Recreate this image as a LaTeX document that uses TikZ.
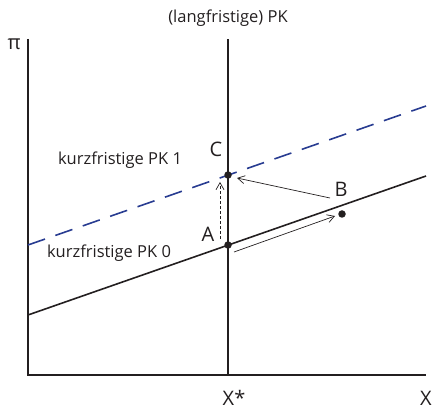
\documentclass[tikz,border=0pt]{standalone}
\usepackage{fontspec}
\setmainfont{Open Sans}
\usetikzlibrary{arrows.meta}
\definecolor{ink}{RGB}{35,31,32}
\definecolor{pkblue}{RGB}{40,60,145}
\begin{document}
\begin{tikzpicture}[x=1pt,y=-1pt,
  axis/.style={ink,line width=1.4pt},
  curve/.style={ink,line width=1.6pt},
  thinarrow/.style={ink,line width=0.7pt,-{Straight Barb[length=7pt,width=8pt]}},
  lbl/.style={ink,font=\fontsize{16.5}{18}\selectfont,inner sep=0pt},
  big/.style={font=\fontsize{20}{22}\selectfont},
  dotstyle/.style={circle,fill=ink,inner sep=0pt,minimum size=7.5pt}]
\useasboundingbox (0,0) rectangle (432,409);
% axes
\coordinate (O) at (28,375);
\coordinate (Ytop) at (28,39);
\coordinate (Xend) at (426,375);
\draw[axis] (Ytop) -- (O) -- (Xend);
% long-run PK
\coordinate (Lbot) at (228,375);
\coordinate (Ltop) at (228,39);
\draw[axis] (Lbot) -- (Ltop);
% short-run PK 0
\coordinate (S0a) at (28,315);
\coordinate (S0b) at (426,176);
\draw[curve] (S0a) -- (S0b);
% short-run PK 1
\coordinate (S1a) at (28,245);
\coordinate (S1b) at (426,106);
\draw[pkblue,line width=1.6pt,dash pattern=on 18pt off 11pt] (S1a) -- (S1b);
% points
\node[dotstyle] (A) at (228,245) {};
\node[dotstyle] (C) at (228,175) {};
\node[dotstyle] (B) at (342,214) {};
% arrows
\coordinate (dA) at (220,239);
\coordinate (dC) at (220,182);
\draw[thinarrow,densely dashed] (dA) -- (dC);
\coordinate (r1) at (234,252);
\coordinate (r2) at (335,216);
\draw[thinarrow] (r1) -- (r2);
\coordinate (b1) at (330,198);
\coordinate (b2) at (237,178);
\draw[thinarrow] (b1) -- (b2);
% labels
\node[lbl] (tLR) at (228,18) {(langfristige) PK};
\node[lbl,big] (tpi) at (14,44) {π};
\node[lbl,big] (tC) at (216,149) {C};
\node[lbl,big] (tB) at (341,189) {B};
\node[lbl,big] (tA) at (208,234) {A};
\node[lbl] (tS1) at (120,160) {kurzfristige PK 1};
\node[lbl] (tS0) at (109,253) {kurzfristige PK 0};
\node[lbl,big] (tXs) at (234,398) {X*};
\node[lbl,big,anchor=west] (tX) at (420,398) {X};
\end{tikzpicture}
\end{document}
